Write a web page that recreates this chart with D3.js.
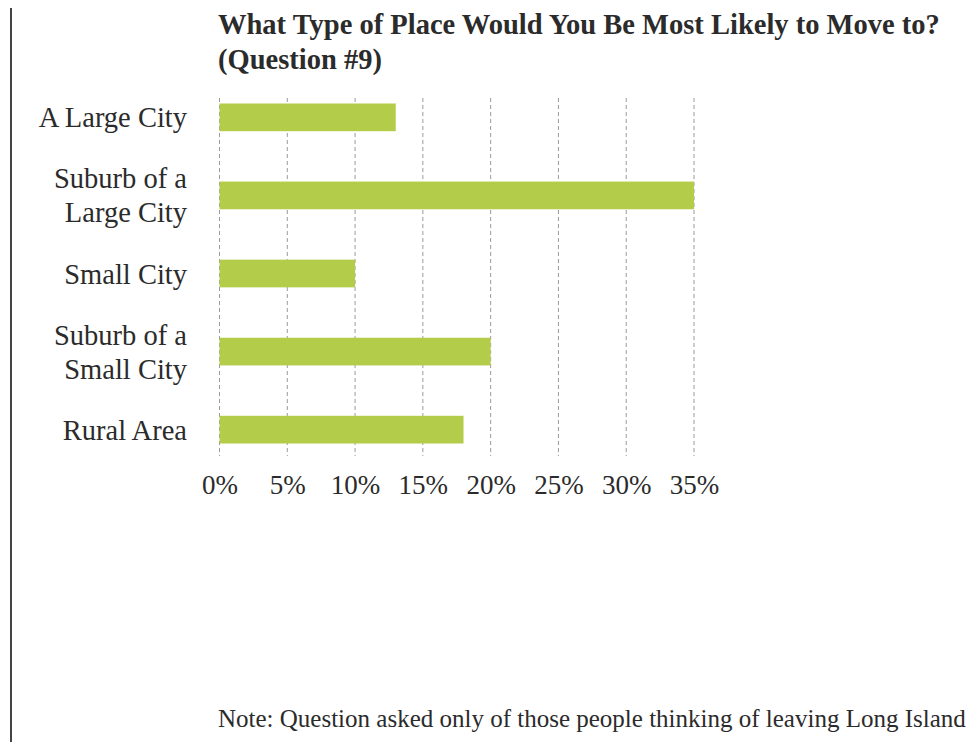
<!DOCTYPE html>
<html>
<head>
<meta charset="utf-8">
<script src="https://cdn.jsdelivr.net/npm/d3@7"></script>
<style>
  html, body { margin: 0; padding: 0; background: #fff; }
  svg { display: block; }
  text { font-family: "Liberation Serif", "DejaVu Serif", serif; fill: #2b2b2b; }
</style>
</head>
<body>
<svg id="chart" width="971" height="742"></svg>
<script>
const categories = ["A Large City", "Suburb of a Large City", "Small City", "Suburb of a Small City", "Rural Area"];
const categoryLines = [["A Large City"], ["Suburb of a", "Large City"], ["Small City"], ["Suburb of a", "Small City"], ["Rural Area"]];
const values = [13, 35, 10, 20, 18];
const tickValues = [0, 5, 10, 15, 20, 25, 30, 35];
const tickLabels = ["0%", "5%", "10%", "15%", "20%", "25%", "30%", "35%"];
const titleLines = ["What Type of Place Would You Be Most Likely to Move to?", "(Question #9)"];
const note = "Note: Question asked only of those people thinking of leaving Long Island";

const svg = d3.select("#chart");

// left vertical rule
svg.append("line").attr("x1", 11).attr("x2", 11).attr("y1", 8).attr("y2", 742)
  .attr("stroke", "#444").attr("stroke-width", 2);

const x = d3.scaleLinear().domain([0, 35]).range([219.5, 694]);
const y = d3.scaleBand().domain(categories).range([78.5, 468.5]).paddingInner(0.645).paddingOuter(0.32);

// title
svg.append("text").attr("x", 218).attr("y", 34)
  .style("font-weight", "bold").style("font-size", "28.5px")
  .selectAll("tspan").data(titleLines).join("tspan")
  .attr("x", 218).attr("dy", (d, i) => i === 0 ? 0 : 35).text(d => d);

// gridlines
svg.append("g").selectAll("line").data(tickValues).join("line")
  .attr("x1", d => x(d)).attr("x2", d => x(d))
  .attr("y1", 98).attr("y2", 456)
  .attr("stroke", "#9a9a9a").attr("stroke-width", 1).attr("stroke-dasharray", "4,3");

// bars
svg.append("g").selectAll("rect").data(values).join("rect")
  .attr("x", x(0)).attr("y", (d, i) => y(categories[i]))
  .attr("width", d => x(d) - x(0)).attr("height", y.bandwidth())
  .attr("fill", "#b3cd4b");

// category labels
const lab = svg.append("g").selectAll("text").data(categoryLines).join("text")
  .attr("text-anchor", "end").style("font-size", "28.5px")
  .attr("transform", (d, i) => `translate(187,${y(categories[i]) + y.bandwidth() / 2 + 10 - (d.length - 1) * 17})`);
lab.selectAll("tspan").data(d => d).join("tspan")
  .attr("x", 0).attr("dy", (d, i) => i === 0 ? 0 : 34).text(d => d);

// x axis tick labels
const xAxis = d3.axisBottom(x).tickValues(tickValues).tickFormat((d, i) => tickLabels[i]).tickSize(0).tickPadding(0);
const gx = svg.append("g").attr("transform", "translate(0,475)").call(xAxis);
gx.select(".domain").remove();
gx.selectAll("text").style("font-size", "27px").style("font-family", "'Liberation Serif', serif").attr("fill", "#2b2b2b").attr("dy", "0.71em");

// note
svg.append("text").attr("x", 218).attr("y", 727).style("font-size", "25px").text(note);
</script>
</body>
</html>
